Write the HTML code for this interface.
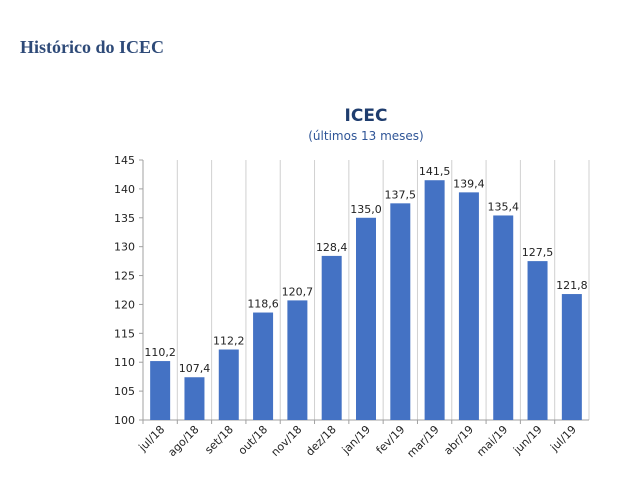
<!DOCTYPE html>
<html><head><meta charset="utf-8"><style>
body{margin:0;background:#fff;width:640px;height:480px;overflow:hidden}
text{font-family:"DejaVu Sans","Liberation Sans",sans-serif}
</style></head><body>
<svg width="640" height="480">
<text x="20" y="53" font-family="Liberation Serif" style="font-family:'Liberation Serif',serif" font-weight="bold" font-size="18" fill="#2e4a78">Histórico do ICEC</text>
<text x="366" y="121" text-anchor="middle" font-weight="bold" font-size="17" fill="#1f3d6e">ICEC</text>
<text x="366" y="140" text-anchor="middle" font-size="12" fill="#2f5597">(últimos 13 meses)</text>
<g id="plot"></g>
</svg>
<script>
const categories=["jul/18","ago/18","set/18","out/18","nov/18","dez/18","jan/19","fev/19","mar/19","abr/19","mai/19","jun/19","jul/19"];
const values=[110.2,107.4,112.2,118.6,120.7,128.4,135.0,137.5,141.5,139.4,135.4,127.5,121.8];
const yTicks=[100,105,110,115,120,125,130,135,140,145];
const L=143,R=589,T=160,B=420,yMin=100,yMax=145;
const ns="http://www.w3.org/2000/svg";
const g=document.getElementById('plot');
const bw=(R-L)/categories.length;
const y=v=>B-(v-yMin)/(yMax-yMin)*(B-T);
const x=i=>L+i*bw;
function mk(t,a){const e=document.createElementNS(ns,t);for(const k in a)e.setAttribute(k,a[k]);g.appendChild(e);return e;}
for(let i=1;i<=categories.length;i++){const l=mk('line',{x1:x(i),x2:x(i),y1:T,y2:B,stroke:'#d0d0d0','stroke-width':1});

}
const ax=mk('line',{x1:L,x2:L,y1:T,y2:B,stroke:'#a0a0a0'});


const xa=mk('line',{x1:L,x2:R,y1:B,y2:B,stroke:'#a0a0a0'});


yTicks.forEach(v=>{mk('line',{x1:L-4,x2:L,y1:y(v),y2:y(v),stroke:'#a0a0a0'});
const t=mk('text',{x:L-8,y:y(v)+4,'text-anchor':'end','font-size':11,fill:'#222'});t.textContent=v;

});
values.forEach((v,i)=>{const cx=x(i)+bw/2;
const r=mk('rect',{x:cx-10,y:y(v),width:20,height:B-y(v),fill:'#4472c4'});


const t=mk('text',{x:cx,y:y(v)-5,'text-anchor':'middle','font-size':11,fill:'#222'});t.textContent=v.toFixed(1).replace('.',',');


mk('line',{x1:x(i),x2:x(i),y1:B,y2:B+4,stroke:'#a0a0a0'});
const c=mk('text',{x:cx+5,y:B+10,'text-anchor':'end','font-size':11,fill:'#222',transform:`rotate(-45 ${cx+5} ${B+10})`});c.textContent=categories[i];

});
</script>
</body></html>
